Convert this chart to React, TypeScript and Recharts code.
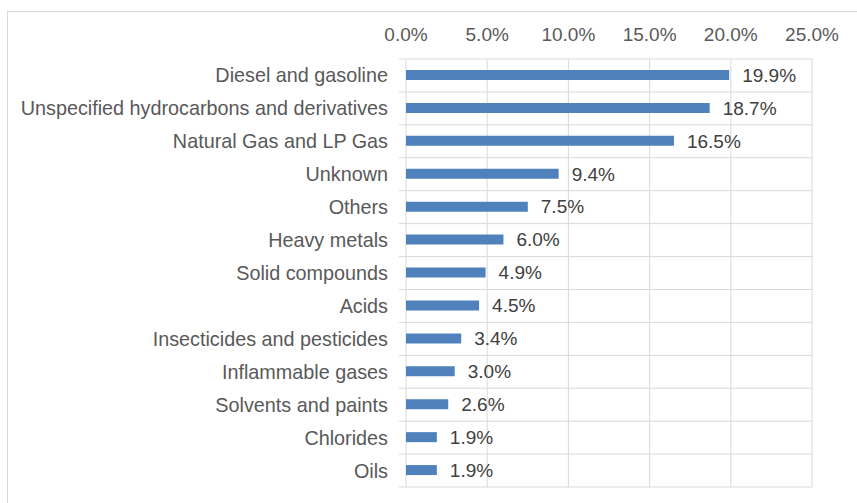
import React from "react";
import {
  BarChart,
  Bar,
  XAxis,
  YAxis,
  CartesianGrid,
  LabelList,
} from "recharts";

const categories = [
  "Diesel and gasoline",
  "Unspecified hydrocarbons and derivatives",
  "Natural Gas and LP Gas",
  "Unknown",
  "Others",
  "Heavy metals",
  "Solid compounds",
  "Acids",
  "Insecticides and pesticides",
  "Inflammable gases",
  "Solvents and paints",
  "Chlorides",
  "Oils",
];

const shares = [19.9, 18.7, 16.5, 9.4, 7.5, 6.0, 4.9, 4.5, 3.4, 3.0, 2.6, 1.9, 1.9];

const xTicks = [0, 5, 10, 15, 20, 25];

const data = categories.map((name, i) => ({ name, value: shares[i] }));

const pct = (v: number) => `${Number(v).toFixed(1)}%`;
const FONT = "'Liberation Sans', Arial, Helvetica, sans-serif";
const GRID = "#d9d9d9";

// Excel-style category boundaries instead of band centres
const boundaries = ({ offset }: any) => {
  const n = categories.length;
  return Array.from({ length: n + 1 }, (_, i) => offset.top + (i * offset.height) / n);
};

const HLine = (props: any) => {
  const { x1, x2, y1, y2 } = props;
  return <line x1={x1 - 7} x2={x2} y1={y1} y2={y2} stroke={GRID} strokeWidth={1} fill="none" />;
};

export default function App() {
  return (
    <div
      style={{
        position: "absolute",
        left: 7,
        top: 11,
        width: 850,
        height: 492,
        borderLeft: `1px solid ${GRID}`,
        borderTop: `1px solid ${GRID}`,
        background: "#fff",
        fontFamily: FONT,
      }}
    >
      <BarChart
        width={849}
        height={491}
        data={data}
        layout="vertical"
        margin={{ top: 0, right: 45, bottom: 16, left: 0 }}
      >
        <CartesianGrid
          stroke={GRID}
          horizontalCoordinatesGenerator={boundaries}
          horizontal={HLine}
        />
        <XAxis
          type="number"
          orientation="top"
          domain={[0, 25]}
          ticks={xTicks}
          tickFormatter={pct}
          height={47}
          axisLine={false}
          tickLine={false}
          tickMargin={12}
          tick={{ fill: "#595959", fontSize: 19, fontFamily: FONT }}
        />
        <YAxis
          type="category"
          dataKey="name"
          width={398}
          axisLine={false}
          tickLine={false}
          tickMargin={12}
          interval={0}
          tick={{ fill: "#595959", fontSize: 19.8, fontFamily: FONT }}
        />
        <Bar dataKey="value" fill="#4F81BD" barSize={10} isAnimationActive={false}>
          <LabelList
            dataKey="value"
            position="right"
            offset={13}
            formatter={pct}
            fill="#404040"
            fontSize={19}
            fontFamily={FONT}
          />
        </Bar>
      </BarChart>
    </div>
  );
}
